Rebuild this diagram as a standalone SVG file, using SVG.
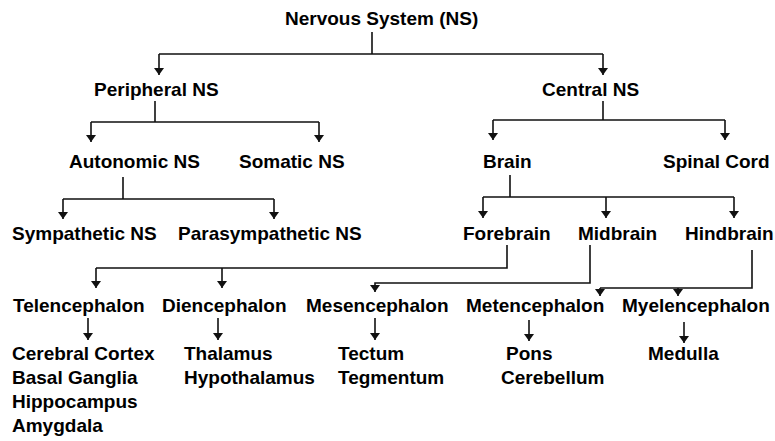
<svg xmlns="http://www.w3.org/2000/svg" width="775" height="441" viewBox="0 0 775 441">
<style>
text{font-family:"Liberation Sans",Arial,sans-serif;font-size:19px;font-weight:bold;fill:#000}
.c path{fill:none;stroke:#111;stroke-width:1.6}
</style>
<defs>
<marker id="ah" viewBox="0 0 7 10" refX="7" refY="5" markerWidth="7" markerHeight="10" markerUnits="userSpaceOnUse" orient="auto">
<path d="M0,0 L7,5 L0,10 z" fill="#111"/>
</marker>
</defs>
<rect width="775" height="441" fill="#fff"/>
<g class="c" id="connectors">
<path d="M372,32 V54 M159,54 H603"/>
<path d="M159,54 V75" marker-end="url(#ah)"/>
<path d="M603,54 V75" marker-end="url(#ah)"/>
<path d="M155,101 V122 M91,122 H319"/>
<path d="M91,122 V142" marker-end="url(#ah)"/>
<path d="M319,122 V142" marker-end="url(#ah)"/>
<path d="M603,101 V120 M493,120 H725"/>
<path d="M493,120 V140" marker-end="url(#ah)"/>
<path d="M725,120 V140" marker-end="url(#ah)"/>
<path d="M123,177 V199 M63,199 H274"/>
<path d="M63,199 V219" marker-end="url(#ah)"/>
<path d="M274,199 V219" marker-end="url(#ah)"/>
<path d="M510,175 V197 M483,197 H734"/>
<path d="M483,197 V218" marker-end="url(#ah)"/>
<path d="M606,197 V218" marker-end="url(#ah)"/>
<path d="M734,197 V218" marker-end="url(#ah)"/>
<path d="M507,245 V268 H96"/>
<path d="M96,268 V288" marker-end="url(#ah)"/>
<path d="M222,268 V288" marker-end="url(#ah)"/>
<path d="M590,245 V283 H375 V292" marker-end="url(#ah)"/>
<path d="M752,250 V288 H600"/>
<path d="M600,288 V296" marker-end="url(#ah)"/>
<path d="M678,288 V296" marker-end="url(#ah)"/>
<path d="M88,318 V340" marker-end="url(#ah)"/>
<path d="M218,318 V340" marker-end="url(#ah)"/>
<path d="M375,318 V340" marker-end="url(#ah)"/>
<path d="M529,320 V341" marker-end="url(#ah)"/>
<path d="M684,322 V343" marker-end="url(#ah)"/>
</g>
<g id="nervous-system"><text x="285" y="25">Nervous System (NS)</text></g>
<g id="peripheral-ns"><text x="94" y="96">Peripheral NS</text></g>
<g id="central-ns"><text x="542" y="96">Central NS</text></g>
<g id="autonomic-ns"><text x="69" y="168">Autonomic NS</text></g>
<g id="somatic-ns"><text x="239" y="168">Somatic NS</text></g>
<g id="brain"><text x="483" y="168">Brain</text></g>
<g id="spinal-cord"><text x="663" y="168">Spinal Cord</text></g>
<g id="sympathetic-ns"><text x="12" y="240">Sympathetic NS</text></g>
<g id="parasympathetic-ns"><text x="178" y="240">Parasympathetic NS</text></g>
<g id="forebrain"><text x="463" y="240">Forebrain</text></g>
<g id="midbrain"><text x="578" y="240">Midbrain</text></g>
<g id="hindbrain"><text x="685" y="240">Hindbrain</text></g>
<g id="telencephalon"><text x="13" y="312">Telencephalon</text></g>
<g id="diencephalon"><text x="162" y="312">Diencephalon</text></g>
<g id="mesencephalon"><text x="306" y="312">Mesencephalon</text></g>
<g id="metencephalon"><text x="466" y="312">Metencephalon</text></g>
<g id="myelencephalon"><text x="622" y="312">Myelencephalon</text></g>
<g id="telencephalon-parts">
<text x="12" y="360">Cerebral Cortex</text>
<text x="12" y="384">Basal Ganglia</text>
<text x="12" y="408">Hippocampus</text>
<text x="12" y="432">Amygdala</text>
</g>
<g id="diencephalon-parts">
<text x="184" y="360">Thalamus</text>
<text x="184" y="384">Hypothalamus</text>
</g>
<g id="mesencephalon-parts">
<text x="338" y="360">Tectum</text>
<text x="338" y="384">Tegmentum</text>
</g>
<g id="metencephalon-parts">
<text x="506" y="360">Pons</text>
<text x="501" y="384">Cerebellum</text>
</g>
<g id="myelencephalon-parts">
<text x="648" y="360">Medulla</text>
</g>
</svg>
